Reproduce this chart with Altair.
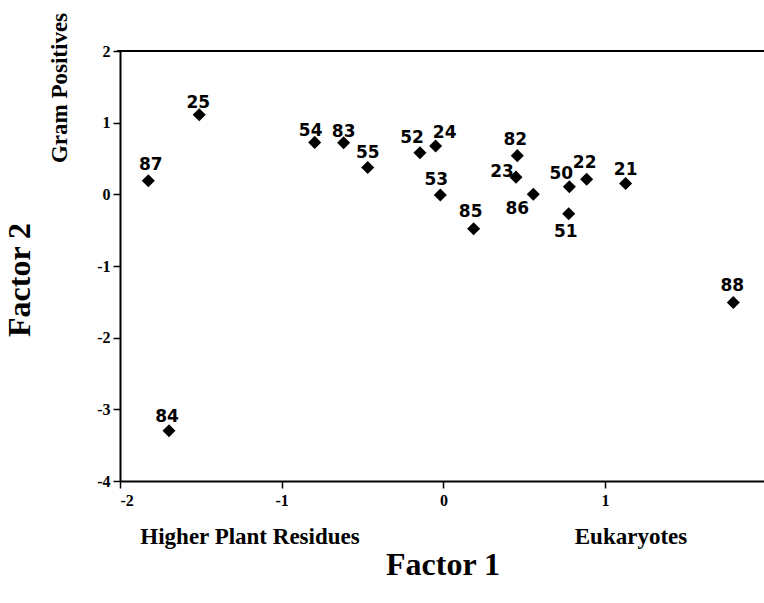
import altair as alt
import pandas as pd

# ---- data ----
ids = ["87", "25", "54", "83", "55", "52", "24", "53", "85",
       "82", "23", "86", "50", "22", "21", "51", "88", "84"]
factor1 = [-1.825, -1.51, -0.796, -0.617, -0.468, -0.145, -0.048, -0.019, 0.187,
           0.457, 0.449, 0.556, 0.779, 0.886, 1.127, 0.775, 1.793, -1.697]
factor2 = [0.19, 1.11, 0.725, 0.72, 0.375, 0.58, 0.674, -0.01, -0.48,
           0.54, 0.24, 0.0, 0.105, 0.21, 0.15, -0.27, -1.51, -3.30]

# label placement (pixel offsets from each marker)
label_dx = [2.5, -1, -4, 0, 0, -8, 9, -4, -3, -2, -14, -16, -8, -2, 0, -3, -1, -2]
label_dy = [-16, -12, -11, -11, -14, -15, -13, -15, -17, -16, -5, 15, -13, -16, -14, 18, -17, -14]

x_ticks = [-2, -1, 0, 1]
y_ticks = [-4, -3, -2, -1, 0, 1, 2]

df = pd.DataFrame({"id": ids, "f1": factor1, "f2": factor2,
                   "dx": label_dx, "dy": label_dy})

W, H = 644, 430
PX = 161.7            # pixels per x unit
PY = H / 6.0          # pixels per y unit
xs = alt.Scale(domain=[-2.0, -2.0 + W / PX], nice=False, zero=False)
ys = alt.Scale(domain=[-4, 2], nice=False, zero=False)

serif = "Liberation Serif"

axis_common = dict(
    title=None, grid=False, domainColor="black", domainWidth=2,
    tickColor="black", tickWidth=1.5, tickSize=7,
    labelFont=serif, labelFontWeight="bold", labelFontSize=16,
    labelColor="black", labelExpr="'' + datum.value",
)
xaxis = alt.Axis(values=x_ticks, labelPadding=4, **axis_common)
yaxis = alt.Axis(values=y_ticks, labelPadding=3, **axis_common)

points = alt.Chart(df).mark_point(
    shape="diamond", filled=True, color="black", size=170, opacity=1
).encode(
    x=alt.X("f1:Q", scale=xs, axis=xaxis),
    y=alt.Y("f2:Q", scale=ys, axis=yaxis),
)

labels = alt.Chart(df).transform_calculate(
    lx=f"datum.f1 + datum.dx / {PX}",
    ly=f"datum.f2 - datum.dy / {PY}",
).mark_text(
    font="DejaVu Sans", fontWeight="bold", fontSize=17, color="black",
    align="center", baseline="middle"
).encode(
    x=alt.X("lx:Q", scale=xs, axis=xaxis),
    y=alt.Y("ly:Q", scale=ys, axis=yaxis),
    text="id:N",
)

top_line = alt.Chart(pd.DataFrame({"a": [0]})).mark_rule(
    color="black", strokeWidth=2
).encode(x=alt.value(-3), x2=alt.value(W), y=alt.value(0))


def title_layer(text, x, y, size, angle=0):
    return alt.Chart(pd.DataFrame({"t": [text]})).mark_text(
        font=serif, fontWeight="bold", fontSize=size, color="black",
        align="center", baseline="middle", angle=angle
    ).encode(x=alt.value(x), y=alt.value(y), text="t:N")


titles = [
    title_layer("Factor 1", 323, 514, 32),
    title_layer("Factor 2", -100, 229, 32, 270),
    title_layer("Gram Positives", -60, 37, 23, 270),
    title_layer("Higher Plant Residues", 130, 486, 23),
    title_layer("Eukaryotes", 511, 486, 23),
]

chart = alt.layer(points, labels, top_line, *titles).properties(
    width=W, height=H,
    padding={"left": 120, "top": 51, "right": 0, "bottom": 122},
    autosize=alt.AutoSizeParams(type="none"),
    background="white",
).configure_view(stroke=None)

chart.save("out.html", embed_options={"renderer": "svg", "actions": False})
